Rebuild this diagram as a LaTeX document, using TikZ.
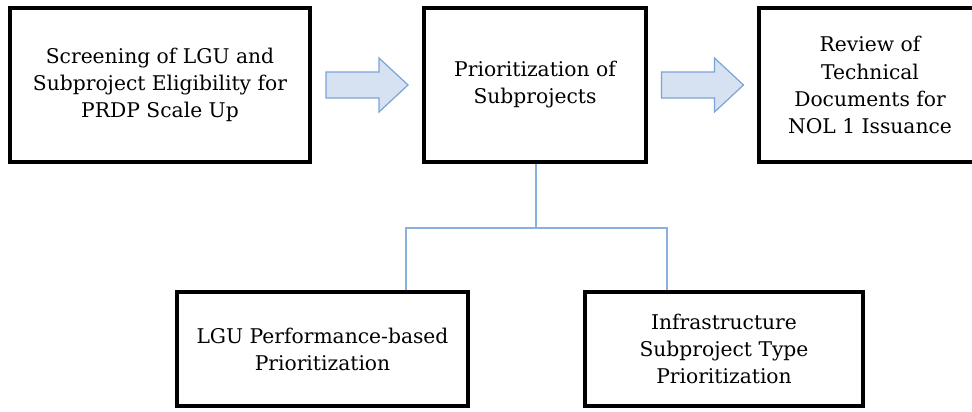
\documentclass[tikz,border=0pt]{standalone}
\usepackage{fontspec}
\setmainfont{DejaVu Serif}
\usetikzlibrary{calc}
\definecolor{arrowfill}{HTML}{D6E2F2}
\definecolor{arrowline}{HTML}{7BA3D8}
\definecolor{linkblue}{HTML}{8AB0E0}

\begin{document}
\begin{tikzpicture}[x=0.75pt,y=-0.75pt,
  stage/.style={draw=black,line width=3.2pt,fill=white,align=center,inner sep=0pt,
    font=\fontsize{15.2}{20.3}\selectfont},
  fatarrow/.style={draw=arrowline,line width=0.9pt,fill=arrowfill},
  link/.style={draw=linkblue,line width=2.2pt}]
\useasboundingbox (0,0) rectangle (972,411);
\node[stage,minimum width=300*0.75pt,minimum height=154*0.75pt] (screen) at (160,85) {Screening of LGU and\\Subproject Eligibility for\\PRDP Scale Up};
\node[stage,minimum width=222*0.75pt,minimum height=154*0.75pt] (prio) at (535,85) {Prioritization of\\Subprojects};
\node[stage,minimum width=222*0.75pt,minimum height=154*0.75pt] (review) at (870,85) {Review of\\Technical\\Documents for\\NOL 1 Issuance};
\node[stage,minimum width=291*0.75pt,minimum height=114*0.75pt] (lgu) at (322.5,349) {LGU Performance-based\\Prioritization};
\node[stage,minimum width=278*0.75pt,minimum height=114*0.75pt] (infra) at (724,349) {Infrastructure\\Subproject Type\\Prioritization};
\coordinate (a1) at ($(screen.east)!0.5!(prio.west)$);
\coordinate (a2) at ($(prio.east)!0.5!(review.west)$);
\draw[fatarrow,shift={(a1)}] (-41,-13) -- (12,-13) -- (12,-27) -- (41,0) -- (12,27) -- (12,13) -- (-41,13) -- cycle;
\draw[fatarrow,shift={(a2)}] (-41,-13) -- (12,-13) -- (12,-27) -- (41,0) -- (12,27) -- (12,13) -- (-41,13) -- cycle;
\coordinate (split) at (536,228);
\coordinate (dropl) at (406,228);
\coordinate (dropr) at (667,228);
\draw[link] (prio.south -| split) -- (split);
\draw[link] (dropl |- lgu.north) -- (dropl) -- (dropr) -- (dropr |- infra.north);
\end{tikzpicture}
\end{document}
